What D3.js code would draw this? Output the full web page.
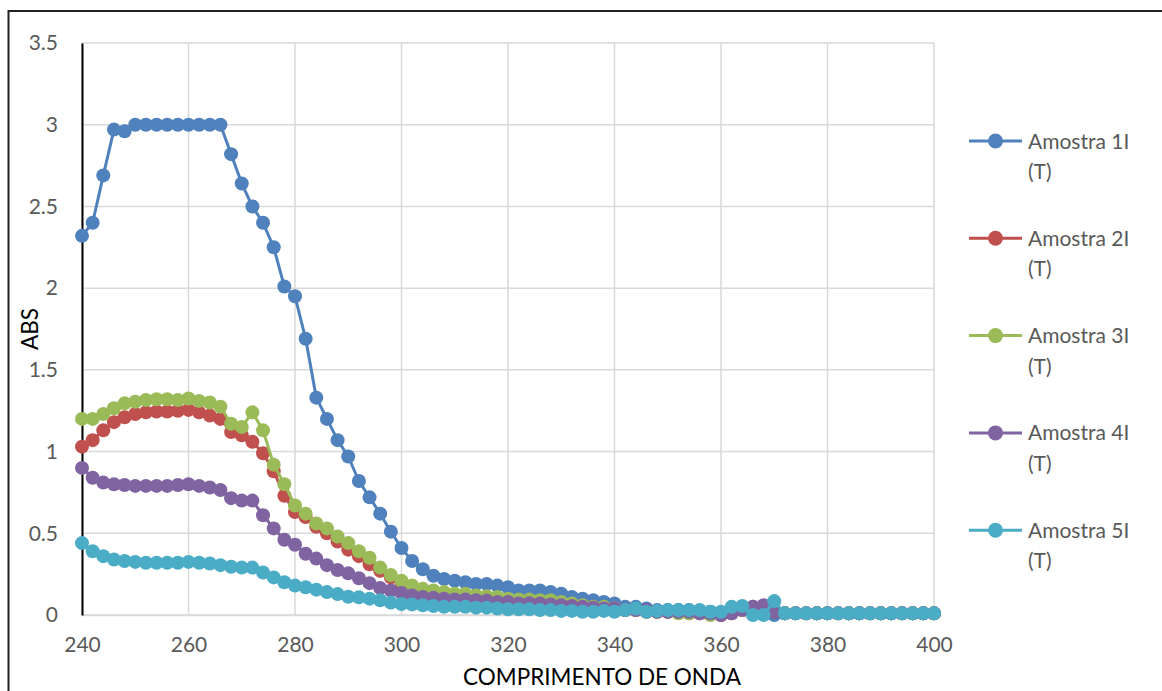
<!DOCTYPE html>
<html lang="pt">
<head>
    <meta charset="UTF-8">
    <title>ABS x Comprimento de onda</title>
    <script src="https://d3js.org/d3.v7.min.js"></script>
    <style>
        body { margin: 0; background: #fff; }
        svg { display: block; font-family: Lato, "Open Sans", sans-serif; }
    </style>
</head>
<body>
<div id="chart"></div>
<script>
    // wavelengths (nm)
    const wavelengths = [
        240, 242, 244, 246, 248, 250, 252, 254, 256, 258,
        260, 262, 264, 266, 268, 270, 272, 274, 276, 278,
        280, 282, 284, 286, 288, 290, 292, 294, 296, 298,
        300, 302, 304, 306, 308, 310, 312, 314, 316, 318,
        320, 322, 324, 326, 328, 330, 332, 334, 336, 338,
        340, 342, 344, 346, 348, 350, 352, 354, 356, 358,
        360, 362, 364, 366, 368, 370, 372, 374, 376, 378,
        380, 382, 384, 386, 388, 390, 392, 394, 396, 398,
        400
    ];

    const amostra1 = [
        2.32, 2.40, 2.69, 2.97, 2.96, 3.00, 3.00, 3.00, 3.00, 3.00,
        3.00, 3.00, 3.00, 3.00, 2.82, 2.64, 2.50, 2.40, 2.25, 2.01,
        1.95, 1.69, 1.33, 1.20, 1.07, 0.97, 0.82, 0.72, 0.62, 0.51,
        0.41, 0.33, 0.28, 0.24, 0.22, 0.21, 0.20, 0.19, 0.19, 0.18,
        0.17, 0.15, 0.15, 0.15, 0.14, 0.13, 0.11, 0.10, 0.09, 0.08,
        0.07, 0.05, 0.05, 0.04, 0.03, 0.03, 0.03, 0.03, 0.02, 0.02,
        0.01, 0.03, 0.05, 0.05, 0.02, 0.00, 0.01, 0.01, 0.01, 0.01,
        0.01, 0.01, 0.01, 0.01, 0.01, 0.01, 0.01, 0.01, 0.01, 0.01,
        0.01
    ];

    const amostra2 = [
        1.03, 1.07, 1.13, 1.18, 1.21, 1.23, 1.24, 1.245, 1.245, 1.25,
        1.255, 1.24, 1.22, 1.20, 1.12, 1.10, 1.06, 0.99, 0.88, 0.73,
        0.63, 0.60, 0.54, 0.50, 0.45, 0.40, 0.36, 0.31, 0.27, 0.23,
        0.20, 0.17, 0.15, 0.14, 0.13, 0.12, 0.12, 0.11, 0.10, 0.10,
        0.09, 0.085, 0.085, 0.08, 0.08, 0.07, 0.06, 0.05, 0.05, 0.04,
        0.04, 0.03, 0.03, 0.02, 0.02, 0.02, 0.02, 0.01, 0.01, 0.01,
        0.00, 0.01, 0.03, 0.02, 0.04, 0.02, 0.01, 0.01, 0.01, 0.01,
        0.01, 0.01, 0.01, 0.01, 0.01, 0.01, 0.01, 0.01, 0.01, 0.01,
        0.01
    ];

    const amostra3 = [
        1.20, 1.20, 1.23, 1.265, 1.295, 1.305, 1.315, 1.32, 1.32, 1.315,
        1.325, 1.31, 1.30, 1.275, 1.17, 1.15, 1.24, 1.13, 0.92, 0.80,
        0.67, 0.62, 0.56, 0.53, 0.48, 0.44, 0.39, 0.35, 0.29, 0.245,
        0.21, 0.18, 0.16, 0.15, 0.14, 0.13, 0.13, 0.12, 0.115, 0.11,
        0.10, 0.095, 0.095, 0.09, 0.09, 0.08, 0.07, 0.06, 0.05, 0.05,
        0.04, 0.03, 0.03, 0.02, 0.02, 0.02, 0.01, 0.01, 0.01, 0.00,
        0.01, 0.02, 0.03, 0.02, 0.03, 0.03, 0.01, 0.01, 0.01, 0.01,
        0.01, 0.01, 0.01, 0.01, 0.01, 0.01, 0.01, 0.01, 0.01, 0.01,
        0.01
    ];

    const amostra4 = [
        0.90, 0.84, 0.81, 0.80, 0.795, 0.79, 0.79, 0.79, 0.79, 0.795,
        0.80, 0.79, 0.78, 0.765, 0.715, 0.70, 0.70, 0.61, 0.53, 0.46,
        0.43, 0.375, 0.345, 0.305, 0.275, 0.255, 0.225, 0.195, 0.165, 0.15,
        0.135, 0.12, 0.11, 0.105, 0.10, 0.095, 0.095, 0.09, 0.088, 0.08,
        0.08, 0.07, 0.072, 0.07, 0.065, 0.06, 0.055, 0.05, 0.045, 0.04,
        0.04, 0.03, 0.03, 0.03, 0.02, 0.02, 0.02, 0.02, 0.01, 0.01,
        0.00, 0.01, 0.03, 0.05, 0.06, 0.02, 0.01, 0.01, 0.01, 0.01,
        0.01, 0.01, 0.01, 0.01, 0.01, 0.01, 0.01, 0.01, 0.01, 0.01,
        0.01
    ];

    const amostra5 = [
        0.44, 0.39, 0.36, 0.34, 0.33, 0.325, 0.32, 0.32, 0.32, 0.32,
        0.325, 0.32, 0.315, 0.305, 0.295, 0.29, 0.29, 0.26, 0.23, 0.20,
        0.18, 0.17, 0.155, 0.14, 0.128, 0.112, 0.108, 0.10, 0.09, 0.076,
        0.067, 0.065, 0.06, 0.055, 0.05, 0.05, 0.05, 0.045, 0.045, 0.04,
        0.035, 0.035, 0.035, 0.03, 0.03, 0.025, 0.025, 0.02, 0.02, 0.025,
        0.02, 0.03, 0.04, 0.02, 0.025, 0.03, 0.03, 0.03, 0.03, 0.02,
        0.02, 0.05, 0.055, 0.00, 0.00, 0.085, 0.01, 0.01, 0.01, 0.01,
        0.01, 0.01, 0.01, 0.01, 0.01, 0.01, 0.01, 0.01, 0.01, 0.01,
        0.01
    ];

    const seriesNames = ["Amostra 1I (T)", "Amostra 2I (T)", "Amostra 3I (T)", "Amostra 4I (T)", "Amostra 5I (T)"];
    const seriesValues = [amostra1, amostra2, amostra3, amostra4, amostra5];
    const colors = ["#4F81BD", "#C0504D", "#9BBB59", "#8064A2", "#4BACC6"];

    const xTicks = [240, 260, 280, 300, 320, 340, 360, 380, 400];
    const yTicks = [0, 0.5, 1, 1.5, 2, 2.5, 3, 3.5];

    const width = 1162, height = 691;
    const plot = { left: 82, right: 934, top: 43, bottom: 615 };

    const svg = d3.select("#chart").append("svg")
        .attr("width", width)
        .attr("height", height);

    // outer frame (runs off the bottom/right of the picture)
    svg.append("rect")
        .attr("x", 8.5).attr("y", 11)
        .attr("width", 1200).attr("height", 720)
        .attr("fill", "none")
        .attr("stroke", "#222")
        .attr("stroke-width", 2);

    const x = d3.scaleLinear().domain([240, 400]).range([plot.left, plot.right]);
    const y = d3.scaleLinear().domain([0, 3.5]).range([plot.bottom, plot.top]);

    // gridlines
    svg.append("g")
        .selectAll("line.h")
        .data(yTicks)
        .join("line")
        .attr("x1", plot.left).attr("x2", plot.right)
        .attr("y1", d => y(d)).attr("y2", d => y(d))
        .attr("stroke", "#D9D9D9")
        .attr("stroke-width", 1.5);

    svg.append("g")
        .selectAll("line.v")
        .data(xTicks)
        .join("line")
        .attr("x1", d => x(d)).attr("x2", d => x(d))
        .attr("y1", plot.top).attr("y2", plot.bottom)
        .attr("stroke", "#D9D9D9")
        .attr("stroke-width", 1.5);

    // axes
    const xAxis = svg.append("g")
        .attr("transform", `translate(0,${plot.bottom})`)
        .call(d3.axisBottom(x).tickValues(xTicks).tickSize(0).tickPadding(22).tickFormat(d3.format("d")));
    xAxis.select(".domain").attr("stroke", "#D9D9D9").attr("stroke-width", 1.5);
    xAxis.selectAll("text").attr("font-size", 21).attr("fill", "#595959").attr("font-family", "Lato");

    const yAxis = svg.append("g")
        .attr("transform", `translate(${plot.left},0)`)
        .call(d3.axisLeft(y).tickValues(yTicks).tickSize(0).tickPadding(24).tickFormat(d => d));
    yAxis.select(".domain").attr("stroke", "#000").attr("stroke-width", 2);
    yAxis.selectAll("text").attr("font-size", 21).attr("fill", "#595959").attr("font-family", "Lato");

    // axis titles
    svg.append("text")
        .attr("x", 602).attr("y", 685)
        .attr("text-anchor", "middle")
        .attr("font-size", 22.5)
        .attr("fill", "#000")
        .text("COMPRIMENTO DE ONDA");

    svg.append("text")
        .attr("transform", "translate(38,329) rotate(-90)")
        .attr("text-anchor", "middle")
        .attr("font-size", 22.5)
        .attr("fill", "#000")
        .text("ABS");

    // series
    const line = d3.line()
        .x(d => x(d[0]))
        .y(d => y(d[1]));

    seriesValues.forEach((vals, i) => {
        const pts = wavelengths.map((w, k) => [w, vals[k]]);
        const g = svg.append("g");
        g.append("path")
            .datum(pts)
            .attr("d", line)
            .attr("fill", "none")
            .attr("stroke", colors[i])
            .attr("stroke-width", 3)
            .attr("stroke-linejoin", "round");
        g.selectAll("circle")
            .data(pts)
            .join("circle")
            .attr("cx", d => x(d[0]))
            .attr("cy", d => y(d[1]))
            .attr("r", 7)
            .attr("fill", colors[i]);
    });

    // legend
    const legend = svg.append("g");
    seriesNames.forEach((name, i) => {
        const ly = 141 + i * 97.3;
        legend.append("line")
            .attr("x1", 969).attr("x2", 1022)
            .attr("y1", ly).attr("y2", ly)
            .attr("stroke", colors[i])
            .attr("stroke-width", 3);
        legend.append("circle")
            .attr("cx", 995.5).attr("cy", ly)
            .attr("r", 7.5)
            .attr("fill", colors[i]);
        const parts = name.split(" (");
        const t = legend.append("text")
            .attr("x", 1028).attr("y", ly + 7.5)
            .attr("font-size", 21)
            .attr("fill", "#595959");
        t.append("tspan").attr("x", 1028).text(parts[0]);
        t.append("tspan").attr("x", 1028).attr("dy", 30.5).text("(" + parts[1]);
    });
</script>
</body>
</html>
